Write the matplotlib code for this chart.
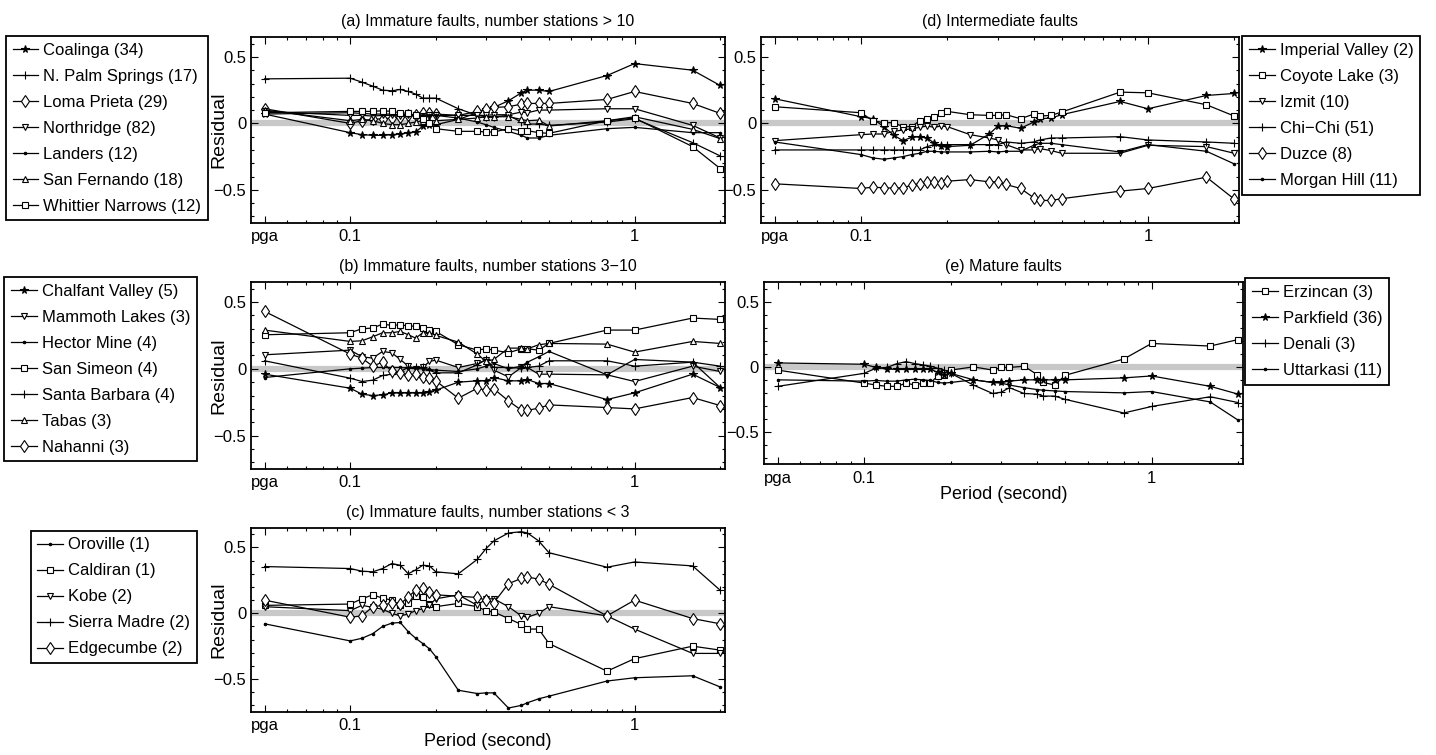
"""Residuals vs period for five fault-maturity groups (MATLAB-style panels)."""
import matplotlib
matplotlib.use("Agg")
from matplotlib import pyplot as plt                       # noqa: E402
from matplotlib.ticker import FixedLocator, FixedFormatter, MultipleLocator  # noqa: E402

# pga is drawn at 0.05 s on the log axis
PERIODS = [0.05, 0.1, 0.11, 0.12, 0.13, 0.14, 0.15, 0.16, 0.17, 0.18, 0.19, 0.2,
           0.24, 0.28, 0.3, 0.32, 0.36, 0.4, 0.42, 0.46, 0.5, 0.8, 1.0, 1.6, 2.0]
XTICKS = [0.05, 0.1, 1]
XTICK_LABELS = ["pga", "0.1", "1"]

# (a) immature faults, > 10 stations
coalinga = [0.07, -0.07, -0.085, -0.09, -0.09, -0.085, -0.08, -0.07, -0.065, -0.02, -0.015, -0.01,
            0.03, 0.08, 0.105, 0.12, 0.17, 0.23, 0.25, 0.25, 0.24, 0.36, 0.45, 0.40, 0.285]
n_palm = [0.335, 0.34, 0.31, 0.28, 0.25, 0.245, 0.255, 0.24, 0.22, 0.19, 0.19, 0.19,
          0.11, 0.06, 0.05, 0.05, 0.06, 0.01, -0.005, -0.005, -0.015, 0.01, 0.035, -0.145, -0.245]
loma_prieta = [0.11, 0.0, 0.02, 0.03, 0.035, 0.04, 0.05, 0.06, 0.065, 0.08, 0.075, 0.07,
               0.06, 0.09, 0.105, 0.12, 0.125, 0.145, 0.15, 0.15, 0.15, 0.18, 0.24, 0.15, 0.075]
northridge = [0.09, 0.06, 0.06, 0.055, 0.06, 0.06, 0.055, 0.06, 0.06, 0.055, 0.06, 0.06,
              0.06, 0.06, 0.06, 0.065, 0.065, 0.085, 0.08, 0.10, 0.10, 0.11, 0.11, -0.015, -0.11]
landers = [0.07, 0.08, 0.075, 0.07, 0.07, 0.07, 0.065, 0.065, 0.06, 0.06, 0.06, 0.06,
           0.04, 0.01, -0.01, -0.03, -0.06, -0.09, -0.11, -0.11, -0.09, -0.04, -0.03, -0.07, -0.07]
san_fernando = [0.10, 0.02, 0.03, 0.02, 0.0, -0.01, -0.01, 0.0, 0.01, 0.02, 0.02, 0.02,
                0.03, 0.04, 0.05, 0.05, 0.05, 0.03, 0.02, 0.025, -0.02, 0.02, 0.05, -0.045, -0.115]
whittier = [0.08, 0.09, 0.09, 0.09, 0.095, 0.09, 0.08, 0.075, 0.06, 0.03, 0.0, -0.04,
            -0.06, -0.06, -0.065, -0.065, -0.04, -0.055, -0.055, -0.07, -0.075, 0.02, 0.04, -0.175, -0.34]

# (b) immature faults, 3-10 stations
chalfant = [-0.04, -0.145, -0.19, -0.2, -0.195, -0.18, -0.18, -0.18, -0.18, -0.18, -0.17, -0.16,
            -0.10, -0.09, -0.09, -0.065, -0.09, -0.09, -0.08, -0.11, -0.11, -0.23, -0.18, -0.04, -0.14]
mammoth = [0.105, 0.14, 0.09, 0.08, 0.13, 0.12, 0.07, 0.02, 0.0, 0.01, 0.055, 0.065,
           0.01, 0.04, 0.065, -0.01, -0.06, 0.01, 0.01, -0.04, -0.04, -0.045, -0.095, 0.02, -0.02]
hector = [-0.065, 0.0, 0.005, 0.01, 0.01, 0.01, 0.01, 0.005, 0.0, 0.0, -0.005, -0.01,
          -0.02, 0.0, 0.02, 0.04, 0.0, 0.02, 0.05, 0.09, 0.13, -0.045, 0.07, 0.05, -0.14]
san_simeon = [0.255, 0.27, 0.30, 0.305, 0.335, 0.325, 0.33, 0.32, 0.32, 0.305, 0.29, 0.28,
              0.18, 0.14, 0.15, 0.14, 0.12, 0.15, 0.15, 0.14, 0.19, 0.29, 0.29, 0.38, 0.37]
santa_barbara = [0.06, -0.07, -0.095, -0.085, -0.05, -0.04, -0.02, 0.01, 0.01, 0.01, -0.01, -0.03,
                 -0.03, 0.03, 0.07, 0.01, 0.01, 0.005, 0.01, 0.02, 0.06, 0.06, 0.02, 0.05, 0.02]
tabas = [0.29, 0.205, 0.21, 0.24, 0.27, 0.27, 0.28, 0.255, 0.23, 0.27, 0.27, 0.25,
         0.20, 0.11, 0.055, 0.07, 0.155, 0.155, 0.15, 0.18, 0.19, 0.185, 0.125, 0.205, 0.19]
nahanni = [0.43, 0.11, 0.08, 0.02, 0.05, -0.02, -0.03, -0.045, -0.04, -0.06, -0.07, -0.09,
           -0.22, -0.145, -0.16, -0.15, -0.24, -0.31, -0.31, -0.295, -0.27, -0.29, -0.30, -0.215, -0.275]

# (c) immature faults, < 3 stations
oroville = [-0.08, -0.21, -0.19, -0.155, -0.10, -0.075, -0.07, -0.14, -0.19, -0.23, -0.27, -0.33,
            -0.585, -0.61, -0.605, -0.605, -0.72, -0.70, -0.68, -0.65, -0.63, -0.515, -0.49, -0.475, -0.56]
caldiran = [0.06, 0.07, 0.11, 0.14, 0.115, 0.10, 0.06, 0.075, 0.13, 0.12, 0.07, 0.05,
            0.075, 0.05, 0.02, 0.01, -0.04, -0.085, -0.12, -0.12, -0.23, -0.44, -0.345, -0.25, -0.28]
kobe = [0.05, 0.02, 0.06, 0.045, 0.03, 0.0, -0.02, -0.005, 0.02, 0.035, 0.06, 0.11,
        0.14, 0.06, 0.11, 0.11, 0.05, -0.02, -0.03, 0.0, 0.05, -0.02, -0.12, -0.305, -0.305]
sierra_madre = [0.355, 0.34, 0.32, 0.315, 0.34, 0.378, 0.365, 0.30, 0.33, 0.365, 0.36, 0.315,
                0.30, 0.41, 0.49, 0.55, 0.61, 0.62, 0.61, 0.55, 0.46, 0.35, 0.39, 0.36, 0.175]
edgecumbe = [0.10, -0.03, -0.02, 0.05, 0.06, 0.08, 0.07, 0.125, 0.175, 0.19, 0.16, 0.14,
             0.13, 0.12, 0.10, 0.08, 0.225, 0.265, 0.275, 0.26, 0.22, -0.02, 0.10, -0.04, -0.08]

# (d) intermediate faults
imperial = [0.185, 0.05, 0.035, -0.025, -0.09, -0.13, -0.105, -0.10, -0.11, -0.15, -0.17, -0.175,
            -0.165, -0.08, -0.02, -0.017, -0.037, 0.01, 0.035, 0.04, 0.065, 0.165, 0.11, 0.21, 0.225]
coyote = [0.125, 0.08, 0.02, 0.005, 0.005, -0.025, -0.025, 0.02, 0.035, 0.045, 0.075, 0.09,
          0.065, 0.06, 0.06, 0.065, 0.035, 0.07, 0.055, 0.06, 0.085, 0.235, 0.23, 0.14, 0.055]
izmit = [-0.13, -0.085, -0.08, -0.08, -0.06, -0.05, -0.04, -0.03, -0.02, -0.03, -0.02, -0.025,
         -0.085, -0.11, -0.125, -0.16, -0.2, -0.2, -0.19, -0.205, -0.225, -0.225, -0.165, -0.175, -0.225]
chi_chi = [-0.2, -0.2, -0.2, -0.2, -0.2, -0.2, -0.2, -0.2, -0.175, -0.16, -0.16, -0.16,
           -0.16, -0.16, -0.16, -0.14, -0.15, -0.14, -0.125, -0.11, -0.11, -0.1, -0.125, -0.14, -0.15]
duzce = [-0.455, -0.49, -0.48, -0.485, -0.487, -0.485, -0.465, -0.453, -0.443, -0.44, -0.448, -0.435,
         -0.423, -0.44, -0.44, -0.46, -0.49, -0.56, -0.58, -0.58, -0.567, -0.51, -0.49, -0.405, -0.57]
morgan_hill = [-0.14, -0.235, -0.26, -0.27, -0.26, -0.25, -0.235, -0.225, -0.21, -0.21, -0.215, -0.215,
               -0.215, -0.21, -0.215, -0.21, -0.21, -0.165, -0.15, -0.15, -0.16, -0.215, -0.16, -0.21, -0.305]

# (e) mature faults
erzincan = [-0.025, -0.125, -0.14, -0.15, -0.15, -0.125, -0.14, -0.125, -0.125, -0.07, -0.06, -0.025,
            0.0, -0.025, -0.005, -0.005, 0.005, -0.06, -0.12, -0.14, -0.065, 0.06, 0.18, 0.16, 0.21]
parkfield = [0.03, 0.02, -0.005, -0.015, -0.02, -0.02, -0.02, -0.02, -0.02, -0.04, -0.06, -0.05,
             -0.10, -0.12, -0.12, -0.11, -0.10, -0.10, -0.10, -0.10, -0.10, -0.085, -0.07, -0.15, -0.21]
denali = [-0.15, -0.05, -0.01, -0.005, 0.025, 0.04, 0.025, 0.015, 0.005, -0.01, -0.025, -0.05,
          -0.14, -0.205, -0.195, -0.16, -0.205, -0.21, -0.225, -0.225, -0.25, -0.355, -0.305, -0.23, -0.275]
uttarkasi = [-0.1, -0.11, -0.105, -0.11, -0.11, -0.1, -0.095, -0.1, -0.105, -0.12, -0.125, -0.12,
             -0.1, -0.12, -0.125, -0.14, -0.16, -0.175, -0.18, -0.185, -0.19, -0.2, -0.19, -0.27, -0.41]

MK = {"star": dict(marker="*", ms=5.5, mfc="k"),
      "plus": dict(marker="+", ms=6),
      "diam": dict(marker="d", ms=6.5, mfc="w"),
      "tdown": dict(marker="v", ms=5, mfc="w"),
      "tup": dict(marker="^", ms=5, mfc="w"),
      "sq": dict(marker="s", ms=4.2, mfc="w"),
      "dot": dict(marker=".", ms=3.5)}

PANELS = [
    dict(rect=[0.1748, 0.7046, 0.3301, 0.2464], title="(a) Immature faults, number stations > 10",
         series=[("Coalinga (34)", coalinga, "star"), ("N. Palm Springs (17)", n_palm, "plus"),
                 ("Loma Prieta (29)", loma_prieta, "diam"), ("Northridge (82)", northridge, "tdown"),
                 ("Landers (12)", landers, "dot"), ("San Fernando (18)", san_fernando, "tup"),
                 ("Whittier Narrows (12)", whittier, "sq")],
         leg=("upper right", (-0.0907, 1.005)), ylab=True, xlab=False),
    dict(rect=[0.1748, 0.3788, 0.3301, 0.2477], title="(b) Immature faults, number stations 3\u221210",
         series=[("Chalfant Valley (5)", chalfant, "star"), ("Mammoth Lakes (3)", mammoth, "tdown"),
                 ("Hector Mine (4)", hector, "dot"), ("San Simeon (4)", san_simeon, "sq"),
                 ("Santa Barbara (4)", santa_barbara, "plus"), ("Tabas (3)", tabas, "tup"),
                 ("Nahanni (3)", nahanni, "diam")],
         leg=("upper right", (-0.114, 1.027)), ylab=True, xlab=False),
    dict(rect=[0.1748, 0.0570, 0.3301, 0.2440], title="(c) Immature faults, number stations < 3",
         series=[("Oroville (1)", oroville, "dot"), ("Caldiran (1)", caldiran, "sq"),
                 ("Kobe (2)", kobe, "tdown"), ("Sierra Madre (2)", sierra_madre, "plus"),
                 ("Edgecumbe (2)", edgecumbe, "diam")],
         leg=("upper right", (-0.114, 0.984)), ylab=True, xlab=True),
    dict(rect=[0.5300, 0.7046, 0.3329, 0.2464], title="(d) Intermediate faults",
         series=[("Imperial Valley (2)", imperial, "star"), ("Coyote Lake (3)", coyote, "sq"),
                 ("Izmit (10)", izmit, "tdown"), ("Chi\u2212Chi (51)", chi_chi, "plus"),
                 ("Duzce (8)", duzce, "diam"), ("Morgan Hill (11)", morgan_hill, "dot")],
         leg=("upper left", (1.0065, 1.004)), ylab=False, xlab=False),
    dict(rect=[0.5320, 0.3850, 0.3336, 0.2410], title="(e) Mature faults",
         series=[("Erzincan (3)", erzincan, "sq"), ("Parkfield (36)", parkfield, "star"),
                 ("Denali (3)", denali, "plus"), ("Uttarkasi (11)", uttarkasi, "dot")],
         leg=("upper left", (1.005, 1.022)), ylab=False, xlab=True),
]

plt.rcParams["font.family"] = ["Liberation Sans", "DejaVu Sans"]
fig = plt.figure(figsize=(14.36, 7.55), dpi=100)

for p in PANELS:
    ax = fig.add_axes(p["rect"])
    ax.axhline(0, color="#c8c8c8", lw=4.5, zorder=1)
    for name, vals, mk in p["series"]:
        ax.plot(PERIODS, vals, color="k", lw=0.9, mec="k", mew=0.8, label=name, zorder=3, **MK[mk])
    ax.set_xscale("log")
    ax.set_xlim(0.0448, 2.08)
    ax.set_ylim(-0.75, 0.65)
    ax.xaxis.set_major_locator(FixedLocator(XTICKS))
    ax.xaxis.set_major_formatter(FixedFormatter(XTICK_LABELS))
    ax.set_yticks([-0.5, 0, 0.5])
    ax.set_yticklabels(["\u22120.5", "0", "0.5"])
    ax.yaxis.set_minor_locator(MultipleLocator(0.1))
    ax.tick_params(which="both", direction="in", top=True, right=True, labelsize=12, width=0.8)
    ax.tick_params(which="major", length=5)
    ax.tick_params(axis="y", which="major", pad=3.5)
    ax.tick_params(axis="x", which="major", pad=4.5)
    ax.tick_params(which="minor", length=2.5)
    for s in ax.spines.values():
        s.set_linewidth(1.3)
    ax.set_title(p["title"], fontsize=11.5, pad=8)
    if p["ylab"]:
        ax.set_ylabel("Residual", fontsize=14)
        ax.yaxis.set_label_coords(-0.05, 0.5)
    if p["xlab"]:
        ax.set_xlabel("Period (second)", fontsize=13, labelpad=0)
    loc, anchor = p["leg"]
    leg = ax.legend(loc=loc, bbox_to_anchor=anchor, borderaxespad=0, fancybox=False,
                    edgecolor="k", framealpha=1, handlelength=1.55, handletextpad=0.3,
                    labelspacing=0.66, borderpad=0.4, fontsize=12)
    leg.get_frame().set_linewidth(1.3)

fig.savefig("out.png", dpi=100)
